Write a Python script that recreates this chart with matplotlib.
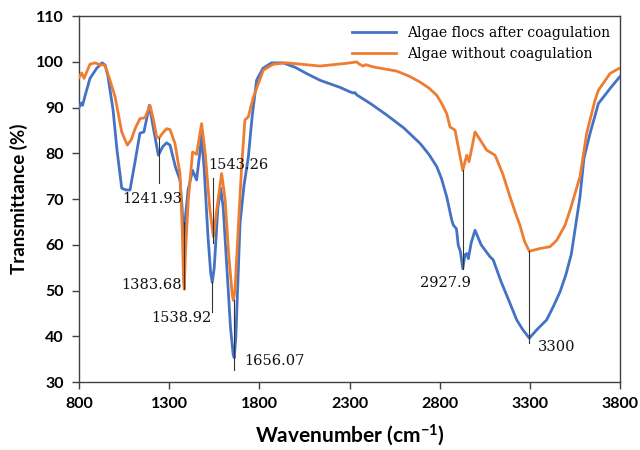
import numpy as np
import matplotlib
matplotlib.use('Agg')
import matplotlib.pyplot as plt

# ---- data ----
wn_flocs = [800, 812, 820, 833, 861, 898, 928, 945, 960, 989, 1010, 1037, 1060, 1083,
            1110, 1138, 1160, 1175, 1190, 1215, 1240, 1265, 1286, 1305, 1335, 1360,
            1372, 1380, 1384, 1390, 1405, 1430, 1452, 1470, 1480, 1495, 1515, 1530,
            1539, 1550, 1570, 1586, 1600, 1620, 1640, 1655, 1661, 1670, 1693, 1715,
            1739, 1760, 1785, 1820, 1868, 1932, 2000, 2060, 2136, 2250, 2300, 2321, 2330,
            2340, 2420, 2506, 2600, 2691, 2740, 2784, 2810, 2839, 2867, 2876, 2893, 2903,
            2915, 2928, 2940, 2950, 2959, 2975, 2996, 3030, 3079, 3097, 3140, 3190,
            3227, 3260, 3297, 3340, 3393, 3430, 3467, 3500, 3530, 3578, 3600, 3634,
            3680, 3745, 3795, 3800]
t_flocs = [90.0, 91.0, 90.5, 92.5, 96.4, 98.6, 99.8, 99.3, 97.0, 89.5, 81.0, 72.4, 72.0, 72.0,
           78.0, 84.4, 84.7, 87.5, 90.5, 85.0, 79.6, 81.5, 82.3, 81.8, 77.0, 74.2,
           68.0, 61.0, 60.4, 66.0, 72.0, 76.3, 74.2, 80.0, 84.0, 76.0, 62.0, 54.0,
           51.8, 55.0, 68.0, 72.4, 68.0, 55.0, 42.0, 36.0, 35.3, 40.0, 64.7, 73.0,
           79.2, 88.0, 96.0, 98.6, 99.8, 99.8, 98.8, 97.5, 96.0, 94.4, 93.5, 93.2, 93.3,
           92.8, 90.8, 88.4, 85.6, 82.2, 79.8, 77.1, 74.5, 70.5, 65.4, 64.3, 63.5, 59.9,
           58.5, 54.8, 57.8, 58.1, 57.0, 60.5, 63.2, 60.0, 57.4, 56.7, 52.0, 47.2,
           43.6, 41.5, 39.6, 41.5, 43.6, 46.5, 49.7, 53.5, 58.0, 70.5, 79.0, 84.4,
           90.9, 94.2, 96.6, 96.8]

wn_raw = [800, 815, 828, 845, 861, 889, 916, 944, 972, 1000, 1037, 1068, 1090, 1111,
          1138, 1166, 1194, 1215, 1231, 1245, 1265, 1286, 1305, 1332, 1360, 1372,
          1380, 1384, 1390, 1406, 1430, 1452, 1480, 1500, 1525, 1545, 1565, 1591,
          1610, 1630, 1650, 1656, 1665, 1685, 1702, 1720, 1739, 1767, 1822, 1877,
          1952, 2136, 2284, 2340, 2355, 2376, 2390, 2432, 2561, 2630, 2691, 2740, 2784,
          2810, 2839, 2857, 2885, 2910, 2928, 2950, 2963, 2996, 3061, 3107, 3150, 3190,
          3220, 3245, 3270, 3297, 3356, 3412, 3449, 3495, 3523, 3578, 3615, 3661,
          3680, 3745, 3795, 3800]
t_raw = [96.6, 97.6, 96.4, 98.0, 99.5, 99.8, 99.4, 99.3, 96.0, 92.4, 84.7, 81.8, 83.0, 85.4,
         87.6, 87.8, 90.5, 87.0, 83.6, 83.4, 84.5, 85.4, 85.2, 82.2, 75.6, 64.0,
         52.0, 50.3, 58.0, 69.8, 80.3, 79.8, 86.5, 80.0, 68.0, 61.8, 68.0, 75.6,
         70.0, 58.0, 49.0, 47.9, 50.0, 65.0, 77.1, 87.3, 88.0, 92.3, 98.2, 99.5,
         99.8, 99.1, 99.7, 100.0, 99.5, 99.1, 99.4, 98.9, 98.0, 96.9, 95.6, 94.3, 92.7,
         91.0, 88.7, 85.8, 85.1, 80.0, 76.3, 79.6, 78.2, 84.7, 80.7, 79.6, 75.5, 70.5,
         67.0, 64.3, 60.8, 58.6, 59.2, 59.6, 61.0, 64.3, 67.6, 74.9, 84.4, 91.6,
         93.8, 97.5, 98.6, 98.6]

# peak marks: label, x of line, line from/to, label position, alignment
peak_labels = ['1241.93', '1383.68', '1543.26', '1538.92', '1656.07', '2927.9', '3300']
peak_x = [1242, 1384, 1543, 1539, 1660, 2928, 3297]
line_top = [83.4, 65.0, 74.6, 51.8, 47.9, 76.3, 58.6]
line_bot = [73.5, 50.3, 60.4, 45.3, 32.6, 54.8, 38.5]
text_x = [1205, 1373, 1515, 1535, 1715, 2830, 3345]
text_y = [70.0, 51.2, 77.4, 44.0, 34.6, 51.6, 37.7]
text_ha = ['center', 'right', 'left', 'right', 'left', 'center', 'left']

blue = '#4472C4'
orange = '#ED7D31'

plt.rcParams['mathtext.fontset'] = 'custom'
plt.rcParams['mathtext.rm'] = 'Lato:bold'
plt.rcParams['mathtext.it'] = 'Lato:bold'

fig = plt.figure(figsize=(6.4, 4.5), dpi=100)
ax = fig.add_axes([0.1234, 0.151, 0.8454, 0.813])

ax.plot(wn_flocs, t_flocs, color=blue, lw=2, label='Algae flocs after coagulation', zorder=3)
ax.plot(wn_raw, t_raw, color=orange, lw=2, label='Algae without coagulation', zorder=3)

for i in range(len(peak_labels)):
    ax.plot([peak_x[i], peak_x[i]], [line_bot[i], line_top[i]], color='#333333', lw=0.8, zorder=4)
    ax.text(text_x[i], text_y[i], peak_labels[i], ha=text_ha[i], va='center',
            fontsize=10.5, family='DejaVu Serif', color='#111111')

ax.set_xlim(800, 3800)
ax.set_ylim(30, 110)
ax.set_xticks(np.arange(800, 3801, 500))
ax.set_yticks(np.arange(30, 111, 10))

for lab in ax.get_xticklabels() + ax.get_yticklabels():
    lab.set_family('Lato')
    lab.set_fontweight('bold')
    lab.set_fontsize(11.5)

for sp in ax.spines.values():
    sp.set_color('#404040')
    sp.set_linewidth(1.0)
ax.tick_params(direction='out', length=5, width=1, color='#404040', pad=6)

ax.set_xlabel('Wavenumber (cm$^{-1}$)', family='Lato', fontweight='bold', fontsize=15, labelpad=8)
ax.set_ylabel('Transmittance (%)', family='Lato', fontweight='bold', fontsize=13.5, labelpad=6)

leg = ax.legend(loc='upper right', frameon=False,
                prop={'family': 'DejaVu Serif', 'size': 10},
                handlelength=3.2, borderaxespad=0.3, labelspacing=0.5)

fig.savefig('out.png', dpi=100)
